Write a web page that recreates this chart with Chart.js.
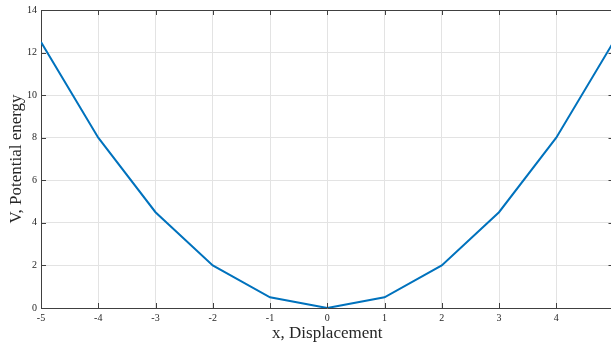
<!DOCTYPE html>
<html>
<head>
<meta charset="utf-8">
<script src="https://cdn.jsdelivr.net/npm/chart.js@4"></script>
<style>
  html, body { margin: 0; padding: 0; background: #fff; overflow: hidden; }
  #wrap { width: 620px; height: 345px; }
</style>
</head>
<body>
<div id="wrap"><canvas id="potChart" width="620" height="345"></canvas></div>
<script>
// displacement and potential energy
const xValues = [-5, -4, -3, -2, -1, 0, 1, 2, 3, 4, 5];
const vValues = [12.5, 8, 4.5, 2, 0.5, 0, 0.5, 2, 4.5, 8, 12.5];
const xTicks = [-5, -4, -3, -2, -1, 0, 1, 2, 3, 4, 5];
const yTicks = [0, 2, 4, 6, 8, 10, 12, 14];

const axisColor = '#404040';
const textColor = '#262626';

// box outline + inward tick marks like the original figure
const boxTicks = {
    id: 'boxTicks',
    afterDraw(chart) {
        const ctx = chart.ctx;
        const a = chart.chartArea;
        const xs = chart.scales.x, ys = chart.scales.y;
        ctx.save();
        ctx.strokeStyle = axisColor;
        ctx.lineWidth = 1;
        ctx.beginPath();
        ctx.moveTo(a.left, a.top + 0.5);
        ctx.lineTo(a.right, a.top + 0.5);
        ctx.moveTo(a.right - 0.5, a.top);
        ctx.lineTo(a.right - 0.5, a.bottom);
        xs.ticks.forEach(t => {
            const px = Math.round(xs.getPixelForValue(t.value)) + 0.5;
            ctx.moveTo(px, a.bottom);
            ctx.lineTo(px, a.bottom - 5);
            ctx.moveTo(px, a.top);
            ctx.lineTo(px, a.top + 5);
        });
        ys.ticks.forEach(t => {
            const py = Math.round(ys.getPixelForValue(t.value)) + 0.5;
            ctx.moveTo(a.left, py);
            ctx.lineTo(a.left + 5, py);
            ctx.moveTo(a.right, py);
            ctx.lineTo(a.right - 5, py);
        });
        ctx.stroke();
        ctx.restore();
    }
};

new Chart(document.getElementById('potChart'), {
    type: 'line',
    data: {
        datasets: [{
            data: xValues.map((x, i) => ({ x: x, y: vValues[i] })),
            borderColor: '#0072BD',
            borderWidth: 2,
            pointRadius: 0,
            tension: 0,
            fill: false
        }]
    },
    options: {
        responsive: false,
        animation: false,
        layout: { padding: { top: 8, right: 4, left: 0, bottom: 0 } },
        plugins: {
            legend: { display: false },
            tooltip: { enabled: false }
        },
        scales: {
            x: {
                type: 'linear',
                min: -5,
                max: 5,
                afterBuildTicks: s => { s.ticks = xTicks.map(v => ({ value: v })); },
                afterFit: s => { s.height = 37; },
                grid: { color: '#e3e3e3', drawTicks: false },
                border: { display: true, color: axisColor, width: 1 },
                ticks: {
                    padding: 4,
                    color: textColor,
                    font: { family: 'Liberation Serif', size: 10 },
                    maxRotation: 0
                },
                title: {
                    display: true,
                    text: 'x, Displacement',
                    color: textColor,
                    font: { family: 'Liberation Serif', size: 17 },
                    padding: { top: 0, bottom: 1 }
                }
            },
            y: {
                min: 0,
                max: 14,
                afterBuildTicks: s => { s.ticks = yTicks.map(v => ({ value: v })); },
                afterFit: s => { s.width = 41; },
                grid: { color: '#e3e3e3', drawTicks: false },
                border: { display: true, color: axisColor, width: 1 },
                ticks: {
                    padding: 4,
                    color: textColor,
                    font: { family: 'Liberation Serif', size: 10 }
                },
                title: {
                    display: true,
                    text: 'V, Potential energy',
                    color: textColor,
                    font: { family: 'Liberation Serif', size: 17 },
                    padding: { top: 6, bottom: 0 }
                }
            }
        }
    },
    plugins: [boxTicks]
});
</script>
</body>
</html>
